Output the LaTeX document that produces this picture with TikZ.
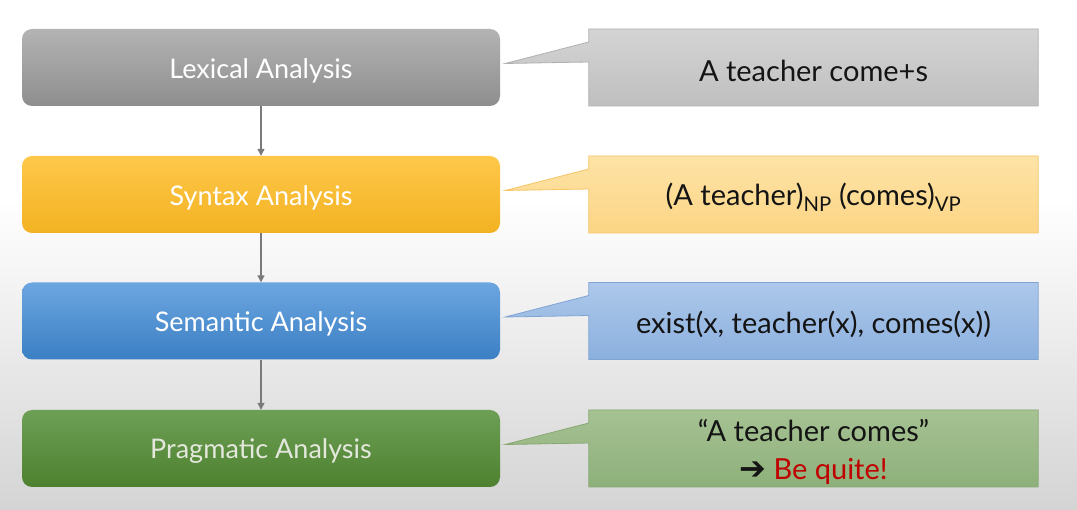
\documentclass[tikz,border=0pt]{standalone}
\usepackage{fontspec}
\setmainfont{Lato}
\newfontfamily\symfont{DejaVu Sans}
\usetikzlibrary{arrows.meta,backgrounds}
\definecolor{bgBot}{HTML}{D4D4D4}
\definecolor{lexTop}{HTML}{B3B3B3}\definecolor{lexBot}{HTML}{8E8E8E}
\definecolor{synTop}{HTML}{FFC84A}\definecolor{synBot}{HTML}{F2B222}
\definecolor{semTop}{HTML}{6CA6E0}\definecolor{semBot}{HTML}{3B7FC4}
\definecolor{praTop}{HTML}{6D9F55}\definecolor{praBot}{HTML}{4D812F}
\definecolor{clexTop}{HTML}{D4D4D4}\definecolor{clexBot}{HTML}{BFBFBF}\definecolor{clexLine}{HTML}{B0B0B0}
\definecolor{csynTop}{HTML}{FDE3A6}\definecolor{csynBot}{HTML}{FCD585}\definecolor{csynLine}{HTML}{F5C566}
\definecolor{csemTop}{HTML}{ADC8EA}\definecolor{csemBot}{HTML}{8BB0DE}\definecolor{csemLine}{HTML}{7EA4D4}
\definecolor{cpraTop}{HTML}{A6C293}\definecolor{cpraBot}{HTML}{8DB07A}\definecolor{cpraLine}{HTML}{88A872}
\definecolor{arrowGrey}{HTML}{7A7A7A}
\definecolor{beRed}{HTML}{C00000}
\definecolor{praText}{HTML}{E4E8DC}
\newcommand{\lowertext}[2][3pt]{\raisebox{-#1}[\height][\depth]{#2}}
\begin{document}
\begin{tikzpicture}[x=1pt,y=-1pt,
  stagebox/.style={rectangle, rounded corners=10pt, minimum width=478pt, minimum height=77pt,
    inner sep=0pt, text=white, font=\fontsize{27}{32}\selectfont},
  callbox/.style={rectangle, minimum width=449pt, minimum height=77pt, inner sep=0pt,
    text=black!92, font=\fontsize{29}{38}\selectfont, align=center},
  flow/.style={draw=arrowGrey, line width=1.3pt, -{Triangle[width=7pt,length=7pt]}}
]
\useasboundingbox (0,0) rectangle (1077,510);
\begin{scope}[on background layer]
\fill[white] (0,0) rectangle (1077,510);
\shade[top color=white, bottom color=bgBot] (0,200) rectangle (1077,510);
\end{scope}

\node[stagebox, top color=lexTop, bottom color=lexBot] (lex) at (261,67.5) {\lowertext{Lexical Analysis}};
\node[stagebox, top color=synTop, bottom color=synBot] (syn) at (261,194.5) {\lowertext{Syntax Analysis}};
\node[stagebox, top color=semTop, bottom color=semBot] (sem) at (261,321) {\lowertext{Semantic Analysis}};
\node[stagebox, top color=praTop, bottom color=praBot, text=praText] (pra) at (261,448.5) {\lowertext{Pragmatic Analysis}};

\node[callbox] (clex) at (813.5,67.5) {\lowertext{A teacher come+s}};
\node[callbox] (csyn) at (813.5,194.5) {\lowertext{(A teacher)\textsubscript{NP} (comes)\textsubscript{VP}}};
\node[callbox] (csem) at (813.5,321) {\lowertext{exist(x, teacher(x), comes(x))}};
\node[callbox] (cpra) at (813.5,448.5) {\lowertext[4pt]{\begin{tabular}{@{}c@{}}“A teacher comes”\\{\symfont\bfseries\fontsize{32}{38}\selectfont ➔} \textcolor{beRed}{Be quite!}\end{tabular}}};

\begin{scope}[on background layer]
\foreach \s/\c/\n in {lex/clex/clex, syn/csyn/csyn, sem/csem/csem, pra/cpra/cpra}{
  \shade[top color=\n Top, bottom color=\n Bot, draw=\n Line, line width=0.8pt]
    ([yshift=38.5pt]\c.west -| \c.east) -- ([yshift=-38.5pt]\c.west -| \c.east)
    -- ([yshift=-38.5pt]\c.west) -- ([yshift=5.5pt]\c.west)
    -- ([xshift=5pt,yshift=4pt]\s.east)
    -- ([yshift=25.5pt]\c.west) -- ([yshift=38.5pt]\c.west) -- cycle;
}
\end{scope}

\draw[flow] (lex) -- (syn);
\draw[flow] (syn) -- (sem);
\draw[flow] (sem) -- (pra);
\end{tikzpicture}
\end{document}
